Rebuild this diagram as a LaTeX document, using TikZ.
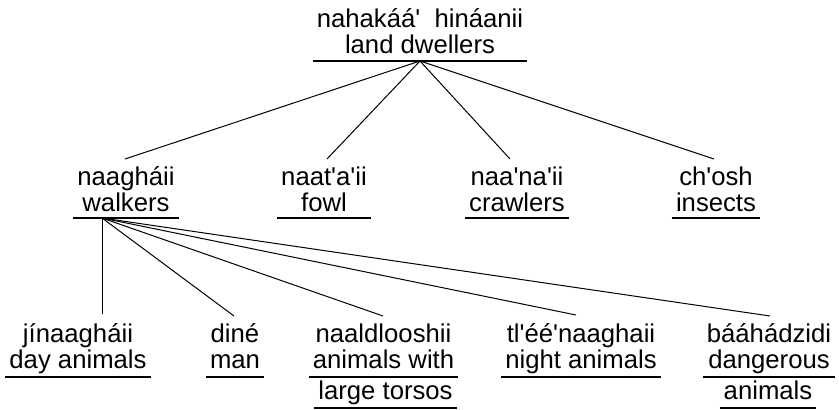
\documentclass[tikz,border=0pt]{standalone}
\usepackage{fontspec}
\setmainfont{Liberation Sans}
\newcommand{\q}{\textquotesingle}
\begin{document}
\begin{tikzpicture}[x=1pt,y=-1pt,
  lab/.style={font=\fontsize{25.7}{25.5}\selectfont, align=center, inner xsep=4pt, inner ysep=0pt, anchor=base},
  ul/.style={line width=1.3pt},
  edge/.style={line width=1pt}]
\useasboundingbox (0,0) rectangle (839,410);
% top
\node[lab] (top) at (420,53) {nahakáá\q\ \ hináanii\\land dwellers};
\draw[ul] (top.west |- 0,61) -- (top.east |- 0,61);
\coordinate (r) at (top.center |- 0,61);
% middle
\node[lab] (wk) at (126,211) {naagháii\\walkers};
\node[lab] (fw) at (324,211) {naat\q a\q ii\\fowl};
\node[lab] (cr) at (517,211) {naa\q na\q ii\\crawlers};
\node[lab] (in) at (716,211) {ch\q osh\\insects};
\foreach \n in {wk,fw,cr,in}{\draw[ul] (\n.west |- 0,218) -- (\n.east |- 0,218);}
\coordinate (wkt) at (125,159);
\coordinate (fwt) at (327,159);
\coordinate (crt) at (510,159);
\coordinate (int) at (714,159);
\coordinate (w) at (102,218);
% bottom
\node[lab] (dy) at (78,368) {jínaagháii\\day animals};
\node[lab] (mn) at (235,368) {diné\\man};
\node[lab] (lt) at (383.5,368) {naaldlooshii\\animals with};
\node[lab] (lt2) at (385.5,399) {large torsos};
\node[lab] (nt) at (581,368) {tl\q éé\q naaghaii\\night animals};
\node[lab] (dg) at (769,368) {bááhádzidi\\dangerous};
\node[lab] (dg2) at (768,399) {animals};
\foreach \n in {dy,mn,lt,nt,dg}{\draw[ul] (\n.west |- 0,377) -- (\n.east |- 0,377);}
\foreach \n in {lt2,dg2}{\draw[ul] (\n.west |- 0,408) -- (\n.east |- 0,408);}
\coordinate (dyt) at (102,314);
\coordinate (mnt) at (234,316);
\coordinate (ltt) at (383,316);
\coordinate (ntt) at (576,315);
\coordinate (dgt) at (770,316);
% connectors
\foreach \c in {wkt,fwt,crt,int}{\draw[edge] (r) -- (\c);}
\foreach \c in {dyt,mnt,ltt,ntt,dgt}{\draw[edge] (w) -- (\c);}
\end{tikzpicture}
\end{document}
